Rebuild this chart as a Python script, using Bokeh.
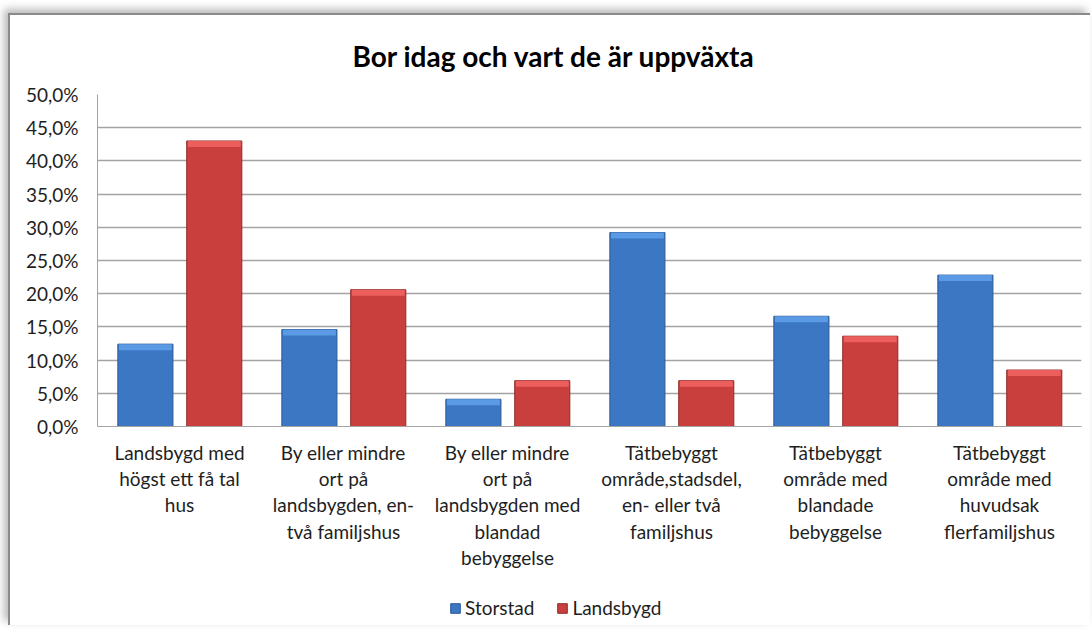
from bokeh.plotting import figure
from bokeh.layouts import column
from bokeh.models import (FactorRange, Range1d, FixedTicker, Legend,
                          LegendItem, ColumnDataSource)
from bokeh.transform import dodge
from bokeh.embed import file_html
from bokeh.resources import INLINE

# ---------------- data ----------------
title_text = "Bor idag och vart de är uppväxta"
categories = [
    "Landsbygd med\nhögst ett få tal\nhus",
    "By eller mindre\nort på\nlandsbygden, en-\ntvå familjshus",
    "By eller mindre\nort på\nlandsbygden med\nblandad\nbebyggelse",
    "Tätbebyggt\nområde,stadsdel,\nen- eller två\nfamiljshus",
    "Tätbebyggt\nområde med\nblandade\nbebyggelse",
    "Tätbebyggt\nområde med\nhuvudsak\nflerfamiljshus",
]
series_names = ["Storstad", "Landsbygd"]
storstad = [12.4, 14.6, 4.1, 29.2, 16.6, 22.8]
landsbygd = [43.0, 20.6, 6.9, 6.9, 13.6, 8.5]
y_ticks = [0, 5, 10, 15, 20, 25, 30, 35, 40, 45, 50]
y_tick_labels = ["0,0%", "5,0%", "10,0%", "15,0%", "20,0%", "25,0%",
                 "30,0%", "35,0%", "40,0%", "45,0%", "50,0%"]

# ---------------- style ----------------
FONT = "Lato"
TXT = "#1e1e1e"
BLUE, BLUE_LINE, BLUE_TOP = "#3b77c3", "#2b5a96", "#62a0ea"
RED, RED_LINE, RED_TOP = "#c83f3d", "#8e2b29", "#f26563"
BEVEL = 0.9  # height of the lighter top bevel, in % units

src = ColumnDataSource(dict(
    cat=categories,
    storstad=storstad,
    landsbygd=landsbygd,
    storstad_bev=[max(v - BEVEL, 0) for v in storstad],
    landsbygd_bev=[max(v - BEVEL, 0) for v in landsbygd],
))

W = 1080
p = figure(
    x_range=FactorRange(*categories, range_padding=0),
    y_range=Range1d(0, 50),
    width=W, height=575,
    output_backend="svg", toolbar_location=None,
    min_border_left=87, min_border_right=9,
    min_border_top=79, min_border_bottom=164,
    background_fill_color="white", border_fill_color="white",
    outline_line_color=None,
)

# title
p.title.text = title_text
p.title.align = "left"
p.title.vertical_align = "top"
p.title.offset = 255
p.title.standoff = 40
p.title.text_font = FONT
p.title.text_font_style = "bold"
p.title.text_font_size = "28px"
p.title.text_color = "#000000"

bw = 0.336
p.vbar(x=dodge("cat", -0.208, range=p.x_range), top="storstad", width=bw,
       source=src, fill_color=BLUE, line_color=BLUE_LINE, line_width=1)
p.vbar(x=dodge("cat", -0.208, range=p.x_range), top="storstad", bottom="storstad_bev",
       width=bw * 0.96, source=src, fill_color=BLUE_TOP, line_color=None, fill_alpha=0.85)
p.vbar(x=dodge("cat", 0.212, range=p.x_range), top="landsbygd", width=bw,
       source=src, fill_color=RED, line_color=RED_LINE, line_width=1)
p.vbar(x=dodge("cat", 0.212, range=p.x_range), top="landsbygd", bottom="landsbygd_bev",
       width=bw * 0.96, source=src, fill_color=RED_TOP, line_color=None, fill_alpha=0.85)

# grid
p.xgrid.grid_line_color = None
p.ygrid.grid_line_color = "#a3a3a3"
p.ygrid.grid_line_width = 1.5
p.ygrid.ticker = FixedTicker(ticks=y_ticks)

# y axis
p.yaxis.ticker = FixedTicker(ticks=y_ticks)
p.yaxis.major_label_overrides = {t: l for t, l in zip(y_ticks, y_tick_labels)}
p.yaxis.axis_line_color = "#a3a3a3"
p.yaxis.major_tick_line_color = None
p.yaxis.minor_tick_line_color = None
p.yaxis.major_tick_out = 0
p.yaxis.major_label_standoff = 19
p.yaxis.major_label_text_font = FONT
p.yaxis.major_label_text_font_size = "19px"
p.yaxis.major_label_text_color = TXT

# x axis
p.xaxis.axis_line_color = "#a3a3a3"
p.xaxis.major_tick_line_color = None
p.xaxis.major_tick_out = 0
p.xaxis.major_label_standoff = 14
p.xaxis.major_label_orientation = "horizontal"
p.xaxis.major_label_text_font = FONT
p.xaxis.major_label_text_font_size = "19px"
p.xaxis.major_label_text_color = TXT
p.xaxis.major_label_text_line_height = 1.15

# ---------------- legend strip below the chart ----------------
lg = figure(width=W, height=35, output_backend="svg", toolbar_location=None,
            x_axis_type=None, y_axis_type=None, x_range=Range1d(0, 1), y_range=Range1d(0, 1),
            min_border_left=87, min_border_right=9, min_border_top=0, min_border_bottom=0,
            outline_line_color=None, background_fill_color="white",
            border_fill_color="white")
lg.xgrid.visible = False
lg.ygrid.visible = False
# zero-size swatch renderers (placed off-canvas) that only feed the legend
r_blue = lg.vbar(x=[0.5], top=[-5], bottom=[-5], width=0,
                 fill_color=BLUE, line_color=BLUE_LINE)
r_red = lg.vbar(x=[0.5], top=[-5], bottom=[-5], width=0,
                fill_color=RED, line_color=RED_LINE)
legend = Legend(items=[LegendItem(label=series_names[0], renderers=[r_blue]),
                       LegendItem(label=series_names[1], renderers=[r_red])],
                location=(352, 6), orientation="horizontal",
                padding=0, margin=0, spacing=22, label_standoff=4,
                glyph_width=12, glyph_height=12,
                border_line_color=None, background_fill_alpha=0,
                label_text_font=FONT, label_text_font_size="19px",
                label_text_color=TXT)
lg.add_layout(legend, "center")

layout = column(p, lg, spacing=0)
layout.styles = {
    "margin-left": "8px",
    "margin-top": "13px",
    "border-top": "2px solid #8a8a8a",
    "border-left": "2px solid #8a8a8a",
    "box-shadow": "-4px -4px 8px rgba(0,0,0,0.28)",
}
open("out.html", "w").write(file_html(layout, INLINE))
